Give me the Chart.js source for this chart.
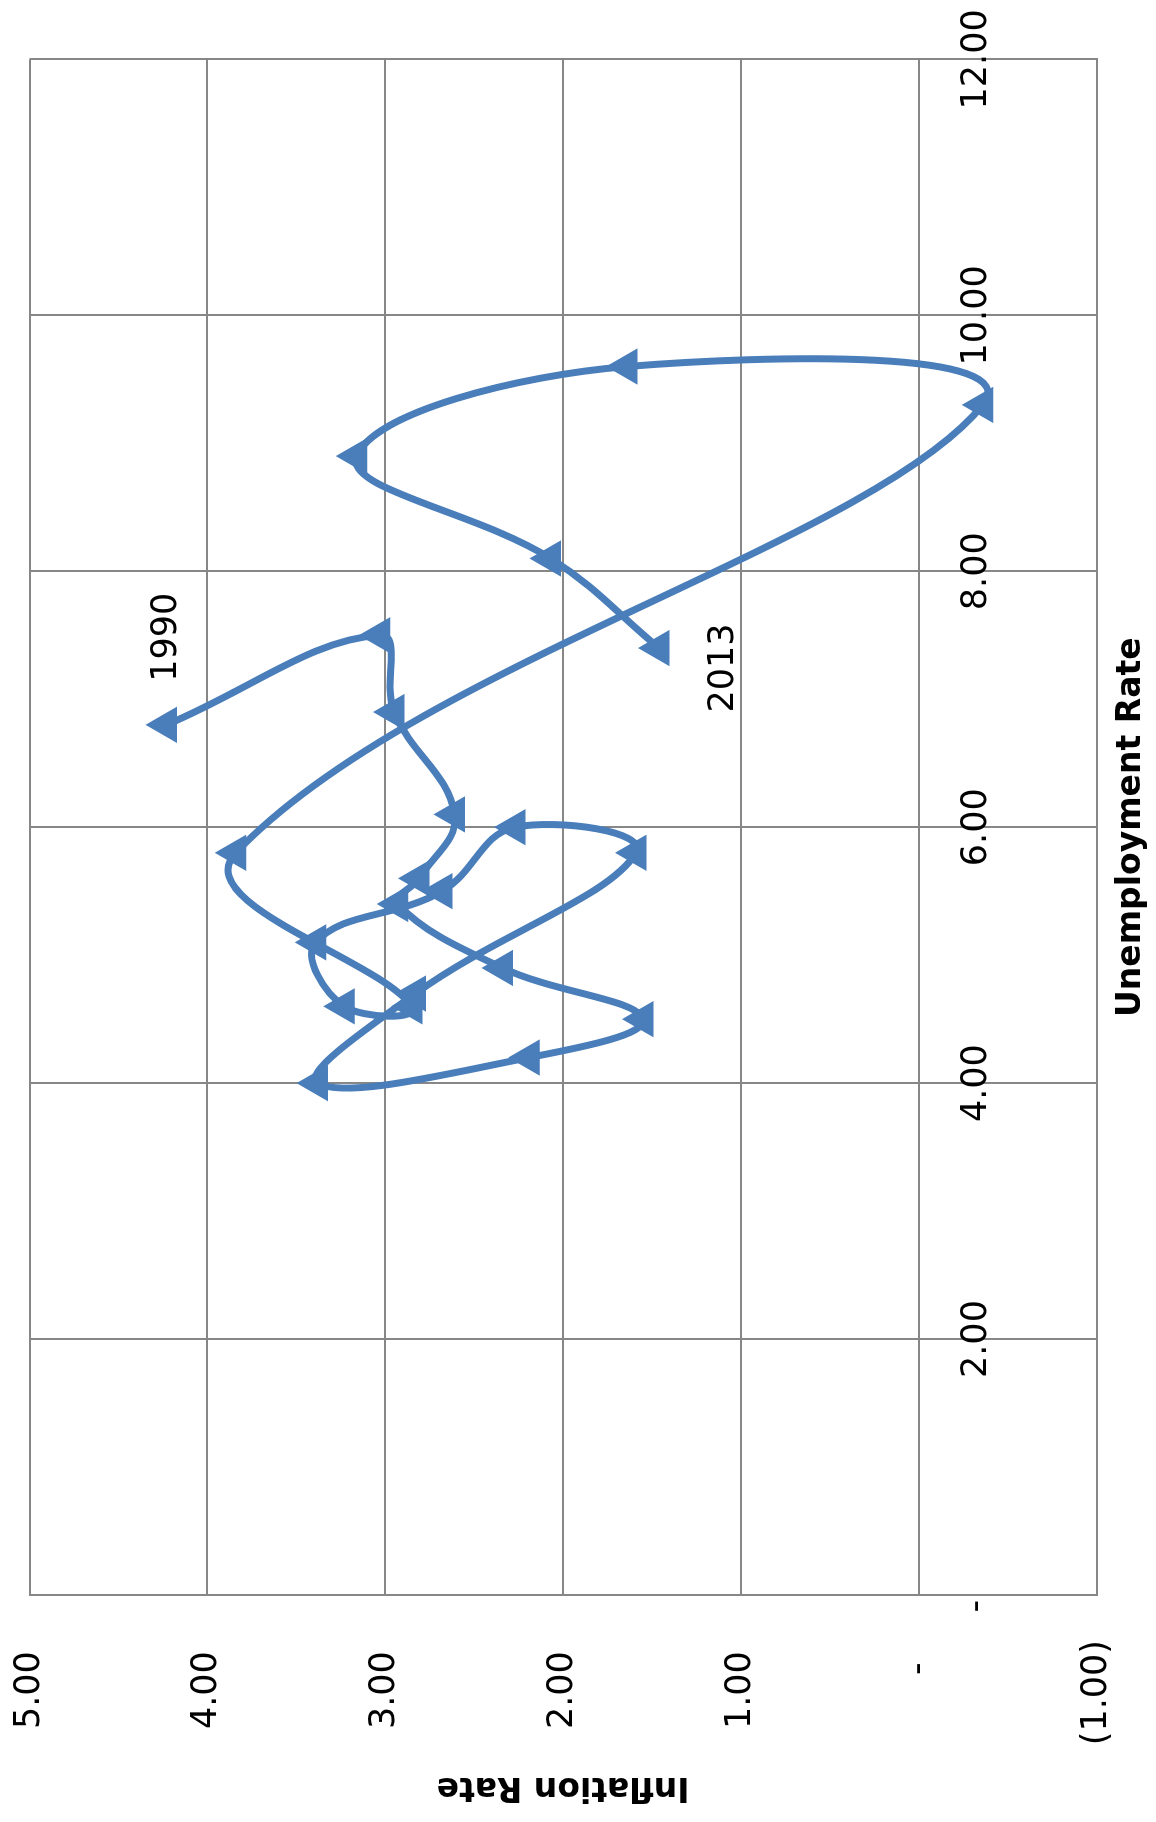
<!DOCTYPE html>
<html>

<head>
    <meta charset="utf-8">
    <style>
        html,
        body {
            margin: 0;
            padding: 0;
            background: #fff;
            overflow: hidden;
        }

        /* the chart is drawn lying on its side and turned a quarter turn */
        #turn {
            position: absolute;
            left: 0;
            top: 0;
            width: 1822px;
            height: 1156px;
            transform-origin: 0 0;
            transform: translateY(1822px) rotate(-90deg);
        }
    </style>
</head>

<body>
    <div id="turn">
        <canvas id="myChart" width="1822" height="1156"></canvas>
    </div>

    <script src="https://cdn.jsdelivr.net/npm/chart.js"></script>

    <script>
        const unemployment = [6.8, 7.5, 6.9, 6.1, 5.6, 5.4, 4.9, 4.5, 4.2, 4.0, 4.7, 5.8, 6.0, 5.5, 5.1, 4.6, 4.6, 5.8, 9.3, 9.6, 8.9, 8.1, 7.4];
        const inflation = [4.23, 3.03, 2.95, 2.61, 2.81, 2.93, 2.34, 1.55, 2.19, 3.38, 2.83, 1.59, 2.27, 2.68, 3.39, 3.23, 2.85, 3.84, -0.36, 1.64, 3.16, 2.07, 1.46];
        const endLabels = ['1990', '2013'];

        const unemploymentTickValues = [0, 2, 4, 6, 8, 10, 12];
        const unemploymentTickLabels = ['-', '2.00', '4.00', '6.00', '8.00', '10.00', '12.00'];
        const inflationTickValues = [-1, 0, 1, 2, 3, 4, 5];
        const inflationTickLabels = ['(1.00)', '-', '1.00', '2.00', '3.00', '4.00', '5.00'];

        const blue = '#4A7EBB';
        const gridColor = '#878787';

        // accounting style: positives leave room for the ")" of negatives
        function accounting(text) {
            if (text.startsWith('(')) return text;
            if (text === '-') return '-\u2007';
            return text + ' ';
        }

        const endLabelPlugin = {
            id: 'endLabels',
            afterDatasetsDraw(chart) {
                const pts = chart.getDatasetMeta(0).data;
                const c = chart.ctx;
                c.save();
                c.font = '35px "DejaVu Sans"';
                c.fillStyle = '#000';
                c.textBaseline = 'middle';

                const first = pts[0];
                c.textAlign = 'left';
                c.fillText(endLabels[0], first.x + 43, first.y);

                const last = pts[pts.length - 1];
                c.textAlign = 'center';
                c.fillText(endLabels[1], last.x - 20, last.y + 65);
                c.restore();
            }
        };

        Chart.defaults.font.family = '"DejaVu Sans"';
        Chart.defaults.font.size = 35;
        Chart.defaults.color = '#000';

        const ctx = document.getElementById('myChart');
        const chart = new Chart(ctx, {
            type: 'scatter',
            data: {
                datasets: [{
                    data: unemployment.map((u, i) => ({ x: u, y: inflation[i] })),
                    xAxisID: 'x',
                    yAxisID: 'y',
                    showLine: true,
                    tension: 0.4,
                    borderColor: blue,
                    borderWidth: 7,
                    borderJoinStyle: 'round',
                    borderCapStyle: 'round',
                    pointStyle: 'triangle',
                    pointRadius: 19,
                    pointHoverRadius: 19,
                    pointBackgroundColor: blue,
                    pointBorderColor: blue,
                    pointBorderWidth: 2
                }]
            },
            options: {
                responsive: false,
                animation: false,
                events: [],
                layout: {
                    padding: { top: 29.5, right: 59.4, bottom: 0, left: 0 }
                },
                plugins: {
                    legend: { display: false },
                    tooltip: { enabled: false }
                },
                scales: {
                    x: {
                        type: 'linear',
                        position: 'bottom',
                        min: 0,
                        max: 12,
                        ticks: { display: false, stepSize: 2 },
                        grid: { color: gridColor, lineWidth: 2, drawTicks: false },
                        border: { color: gridColor, width: 2 },
                        title: {
                            display: true,
                            text: 'Unemployment Rate',
                            font: { size: 33, weight: 'bold' },
                            padding: { top: 0, bottom: 5 }
                        },
                        afterFit: (s) => { s.height = 59.4; }
                    },
                    // labels of the unemployment axis sit on the zero line of inflation
                    x2: {
                        type: 'linear',
                        axis: 'x',
                        position: { y: 0 },
                        min: 0,
                        max: 12,
                        grid: { display: false, drawTicks: true, tickLength: 37 },
                        border: { display: false },
                        ticks: {
                            stepSize: 2,
                            padding: 0,
                            autoSkip: false,
                            maxRotation: 0,
                            callback: (v) => {
                                const i = unemploymentTickValues.indexOf(v);
                                return i < 0 ? '' : (v === 0 ? '-\u2007' : unemploymentTickLabels[i]);
                            }
                        }
                    },
                    y: {
                        type: 'linear',
                        position: 'left',
                        min: -1,
                        max: 5,
                        ticks: {
                            stepSize: 1,
                            padding: 0,
                            callback: (v) => {
                                const i = inflationTickValues.indexOf(v);
                                return i < 0 ? '' : accounting(inflationTickLabels[i]);
                            }
                        },
                        grid: {
                            color: gridColor,
                            lineWidth: 2,
                            drawTicks: true,
                            tickLength: 45,
                            tickColor: 'rgba(0,0,0,0)'
                        },
                        border: { color: gridColor, width: 2 },
                        title: {
                            display: true,
                            text: 'Inflation Rate',
                            font: { size: 33, weight: 'bold' },
                            padding: { top: 16, bottom: 0 }
                        },
                        afterFit: (s) => { s.width = 227; }
                    }
                }
            },
            plugins: [endLabelPlugin]
        });
    </script>
</body>

</html>
